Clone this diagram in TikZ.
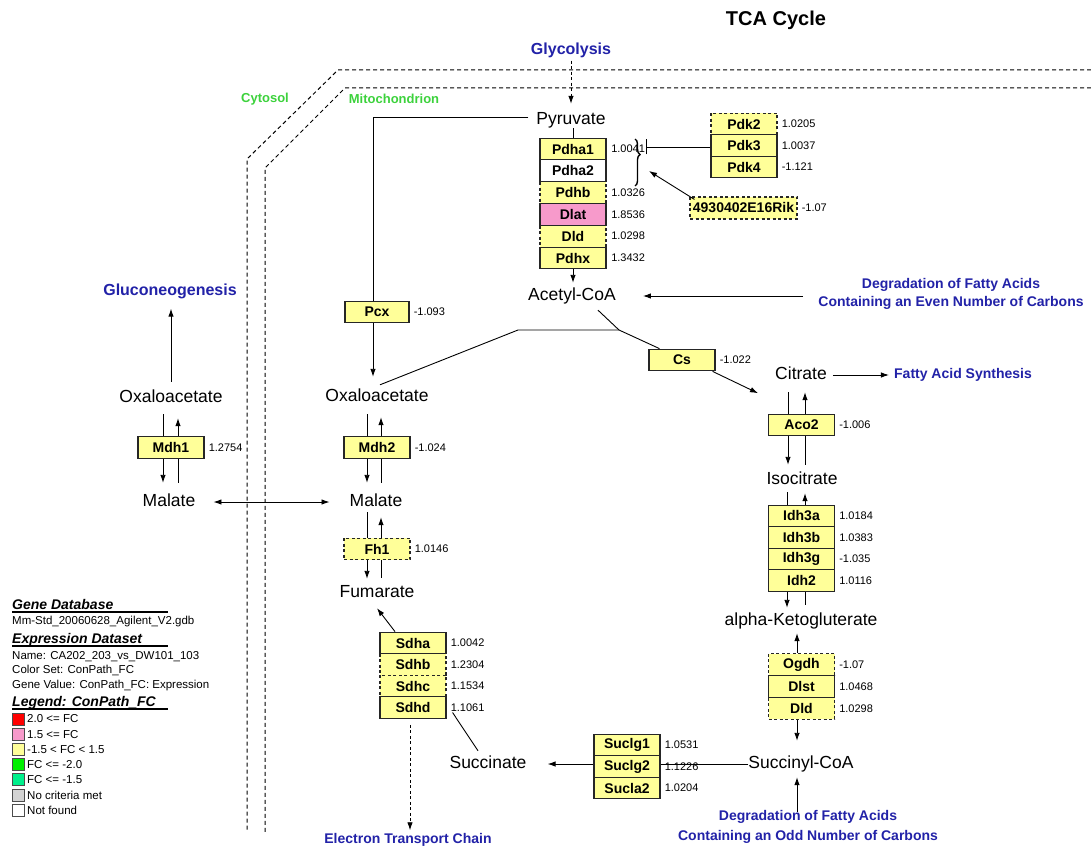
\documentclass[tikz,border=0pt]{standalone}
\usepackage{fontspec}
\setmainfont{Liberation Sans}
\usetikzlibrary{arrows.meta,calc,decorations.pathreplacing}
\definecolor{geneY}{HTML}{FFFF99}
\definecolor{genePink}{HTML}{F79ACB}
\definecolor{pathBlue}{HTML}{2222A8}
\definecolor{compGreen}{HTML}{3CD23C}
\definecolor{legRed}{HTML}{FF0000}
\definecolor{legGreen}{HTML}{00F000}
\definecolor{legSea}{HTML}{00F08C}
\definecolor{legGray}{HTML}{D3D3D3}
\begin{document}
\begin{tikzpicture}[x=1pt,y=-1pt,
 met/.style={font=\fontsize{17.5}{20}\selectfont, inner sep=0pt, text height=12.5pt, text depth=3.5pt},
 gene/.style={draw=black!85, line width=1.1pt, fill=geneY, minimum width=66pt, minimum height=21.7pt, inner sep=0pt, font=\bfseries\fontsize{14}{16}\selectfont},
 dgene/.style={gene, dash pattern=on 3pt off 2.5pt},
 val/.style={font=\fontsize{11}{13}\selectfont, inner sep=1pt, anchor=west},
 pathlbl/.style={text=pathBlue, font=\bfseries\fontsize{14}{18}\selectfont, inner sep=0pt},
 comp/.style={text=compGreen, font=\bfseries\fontsize{13}{15}\selectfont, inner sep=0pt},
 arr/.style={-{Latex[length=8pt,width=5.5pt]}, line width=0.9pt},
 ln/.style={line width=0.9pt},
 dotarr/.style={arr, dash pattern=on 3pt off 2.5pt},
 memb/.style={line width=1pt, dash pattern=on 4pt off 3pt},
 leghead/.style={font=\bfseries\itshape\fontsize{14}{16}\selectfont, anchor=base west, inner sep=0pt},
 legtxt/.style={font=\fontsize{11.5}{13}\selectfont, anchor=base west, inner sep=0pt},
 legbox/.style={draw=black!70, line width=0.8pt, minimum size=12pt, inner sep=0pt},
 ]
\fill[white] (0,0) rectangle (1091,850);
\useasboundingbox (0,0) rectangle (1091,850);

% title and compartments
\node[font=\bfseries\fontsize{20}{24}\selectfont] (title) at (776,20) {TCA Cycle};
\node[comp] (cyto) at (265,99) {Cytosol};
\node[comp] (mito) at (394,99) {Mitochondrion};
\coordinate (o1) at (1091,70); \coordinate (o2) at (338,70);
\coordinate (o3) at (247,159); \coordinate (o4) at (247,832);
\coordinate (i1) at (1091,88); \coordinate (i2) at (345,88);
\coordinate (i3) at (265,168); \coordinate (i4) at (265,832);
\draw[memb] (o1) -- (o2) -- (o3) -- (o4);
\draw[memb] (i1) -- (i2) -- (i3) -- (i4);

% pathway labels
\node[pathlbl, font=\bfseries\fontsize{16}{18}\selectfont] (glyc) at (571,50) {Glycolysis};
\node[pathlbl, font=\bfseries\fontsize{16}{18}\selectfont] (gluco) at (170,291) {Gluconeogenesis};
\node[pathlbl, align=center] (degEven) at (951,294) {Degradation of Fatty Acids\\Containing an Even Number of Carbons};
\node[pathlbl] (fas) at (963,375) {Fatty Acid Synthesis};
\node[pathlbl] (etc) at (408,840) {Electron Transport Chain};
\node[pathlbl, align=center, font=\bfseries\fontsize{14}{20.5}\selectfont] (degOdd) at (808,827) {Degradation of Fatty Acids\\Containing an Odd Number of Carbons};

% metabolites
\node[met] (pyr) at (571,120) {Pyruvate};
\node[met] (acoa) at (572,296) {Acetyl-CoA};
\node[met] (oaa2) at (377,397) {Oxaloacetate};
\node[met] (mal2) at (376,502) {Malate};
\node[met] (fum) at (377,593) {Fumarate};
\node[met] (succ) at (488,764) {Succinate};
\node[met] (scoa) at (801,764) {Succinyl-CoA};
\node[met] (akg) at (801,621) {alpha-Ketogluterate};
\node[met] (icit) at (802,480) {Isocitrate};
\node[met] (cit) at (801,375) {Citrate};
\node[met] (oaa1) at (171,398) {Oxaloacetate};
\node[met] (mal1) at (169,502) {Malate};

% connectors that run behind enzyme boxes
\draw[arr] ([xshift=-8pt,yshift=3pt]pyr.west) -| ([xshift=-4pt,yshift=12pt]oaa2.north);
\draw[arr] ([xshift=-8pt,yshift=-8pt]oaa1.south) -- ([xshift=-6pt,yshift=11pt]mal1.north);
\draw[arr] ([xshift=9pt,yshift=11pt]mal1.north) -- ([xshift=7pt,yshift=-12pt]oaa1.south);
\draw[arr] ([xshift=-10pt,yshift=-9pt]oaa2.south) -- ([xshift=-9pt,yshift=11pt]mal2.north);
\draw[arr] ([xshift=5pt,yshift=11pt]mal2.north) -- ([xshift=4pt,yshift=-12pt]oaa2.south);
\draw[arr] ([xshift=-9pt,yshift=-2pt]mal2.south) -- ([xshift=-10pt,yshift=6pt]fum.north);
\draw[arr] ([xshift=4pt,yshift=7pt]fum.north) -- ([xshift=5pt,yshift=-7pt]mal2.south);
\draw[arr] ([xshift=-13pt,yshift=-9pt]cit.south) -- ([xshift=-14pt,yshift=7pt]icit.north);
\draw[arr] ([xshift=3pt,yshift=7pt]icit.north) -- ([xshift=4pt,yshift=-9pt]cit.south);
\draw[arr] ([xshift=-15pt,yshift=-4pt]icit.south) -- ([xshift=-14pt,yshift=5pt]akg.north);
\draw[arr] ([xshift=4pt,yshift=8pt]akg.north) -- ([xshift=3pt,yshift=-5pt]icit.south);

% enzymes: PDH complex
\node[dgene] (pdhb) at (573,192.6) {Pdhb};
\node[dgene] (dld1) at (573,236.2) {Dld};
\node[gene] (pdha1) at (573,149) {Pdha1};
\node[gene, fill=white] (pdha2) at (573,170.8) {Pdha2};
\node[gene, fill=genePink] (dlat) at (573,214.4) {Dlat};
\node[gene] (pdhx) at (573,258) {Pdhx};
\node[val] (vpdha1) at ([xshift=3.5pt]pdha1.east) {1.0041};
\node[val] (vpdhb) at ([xshift=3.5pt]pdhb.east) {1.0326};
\node[val] (vdlat) at ([xshift=3.5pt]dlat.east) {1.8536};
\node[val] (vdld1) at ([xshift=3.5pt]dld1.east) {1.0298};
\node[val] (vpdhx) at ([xshift=3.5pt]pdhx.east) {1.3432};

% Pdk
\node[dgene] (pdk2) at (744,124) {Pdk2};
\node[gene] (pdk3) at (744,145.5) {Pdk3};
\node[gene] (pdk4) at (744,167) {Pdk4};
\node[val] (vpdk2) at ([xshift=3pt]pdk2.east) {1.0205};
\node[val] (vpdk3) at ([xshift=3pt]pdk3.east) {1.0037};
\node[val] (vpdk4) at ([xshift=3pt]pdk4.east) {-1.121};
\node[dgene, minimum width=107pt, minimum height=22pt] (rik) at (743.5,208) {4930402E16Rik};
\node[val] (vrik) at ([xshift=3pt]rik.east) {-1.07};

% other enzymes
\node[gene, minimum width=64pt] (pcx) at (377,312) {Pcx};
\node[val] (vpcx) at ([xshift=3pt]pcx.east) {-1.093};
\node[gene] (mdh1) at (171,447.5) {Mdh1};
\node[val] (vmdh1) at ([xshift=3pt]mdh1.east) {1.2754};
\node[gene] (mdh2) at (377,447.5) {Mdh2};
\node[val] (vmdh2) at ([xshift=3pt]mdh2.east) {-1.024};
\node[dgene] (fh1) at (377,549) {Fh1};
\node[val] (vfh1) at ([xshift=3pt]fh1.east) {1.0146};

\node[dgene] (sdhb) at (413,664.5) {Sdhb};
\node[dgene] (sdhc) at (413,686) {Sdhc};
\node[gene] (sdha) at (413,643) {Sdha};
\node[gene] (sdhd) at (413,707.5) {Sdhd};
\node[val] (vsdha) at ([xshift=3pt]sdha.east) {1.0042};
\node[val] (vsdhb) at ([xshift=3pt]sdhb.east) {1.2304};
\node[val] (vsdhc) at ([xshift=3pt]sdhc.east) {1.1534};
\node[val] (vsdhd) at ([xshift=3pt]sdhd.east) {1.1061};

\node[gene] (cs) at (682,360) {Cs};
\node[val] (vcs) at ([xshift=3pt]cs.east) {-1.022};
\node[gene] (aco2) at (801.5,425) {Aco2};
\node[val] (vaco2) at ([xshift=3pt]aco2.east) {-1.006};

\node[gene] (idh3a) at (801.5,516) {Idh3a};
\node[gene] (idh3b) at (801.5,537.5) {Idh3b};
\node[gene] (idh3g) at (801.5,559) {Idh3g};
\node[gene] (idh2) at (801.5,580.5) {Idh2};
\node[val] (vidh3a) at ([xshift=3pt]idh3a.east) {1.0184};
\node[val] (vidh3b) at ([xshift=3pt]idh3b.east) {1.0383};
\node[val] (vidh3g) at ([xshift=3pt]idh3g.east) {-1.035};
\node[val] (vidh2) at ([xshift=3pt]idh2.east) {1.0116};

\node[dgene] (ogdh) at (801.5,664.5) {Ogdh};
\node[dgene] (dld2) at (801.5,708.5) {Dld};
\node[gene] (dlst) at (801.5,686.5) {Dlst};
\node[val] (vogdh) at ([xshift=3pt]ogdh.east) {-1.07};
\node[val] (vdlst) at ([xshift=3pt]dlst.east) {1.0468};
\node[val] (vdld2) at ([xshift=3pt]dld2.east) {1.0298};

\node[gene] (suclg1) at (627,745) {Suclg1};
\node[gene] (suclg2) at (627,766.5) {Suclg2};
\node[gene] (sucla2) at (627,788) {Sucla2};
\node[val] (vsuclg1) at ([xshift=3pt]suclg1.east) {1.0531};
\node[val] (vsuclg2) at ([xshift=3pt]suclg2.east) {1.1226};
\node[val] (vsucla2) at ([xshift=3pt]sucla2.east) {1.0204};

% remaining connectors
\draw[dotarr, shorten >=8pt, shorten <=3pt] (glyc.south) -- (pyr.north);
\draw[ln] (pyr.south -| pdha1.north) -- (pdha1.north);
\draw[arr, shorten >=5pt] (pdhx.south) -- (pdhx.south |- acoa.north);
\coordinate (inh) at (646,147);
\draw[ln, -{Bar[width=15pt,line width=1pt]}] (pdk3.west |- inh) -- (inh);
\coordinate (brT) at (635,139);
\coordinate (brB) at (635,186);
\draw[line width=1.4pt, decorate, decoration={brace, amplitude=5pt, aspect=0.33}] (brT) -- (brB);
\coordinate (brA) at (649,171);
\draw[arr] ([xshift=5pt,yshift=-3pt]rik.north west) -- (brA);
\draw[arr] ([xshift=-15pt]degEven.west |- acoa.center) -- ([xshift=27pt]acoa.east);
\coordinate (J) at (619,330);
\coordinate (K) at (518,330);
\draw[ln] ([xshift=26pt,yshift=-6pt]acoa.south) -- (J) -- ([xshift=11pt]cs.north west);
\draw[ln] (J) -- (K) -- ([xshift=3pt,yshift=4pt]oaa2.north);
\draw[arr] ([xshift=-3pt]cs.south east) -- ([xshift=-17pt,yshift=-10pt]cit.south west);
\draw[arr] ([xshift=6pt]cit.east) -- ([xshift=-5pt]fas.west);
\draw[arr] ([yshift=8pt]oaa1.north) -- ([xshift=1pt,yshift=-10pt]gluco.south);
\draw[{Latex[length=8pt,width=5.5pt]}-{Latex[length=8pt,width=5.5pt]}, ln, shorten <=18pt, shorten >=20pt] (mal1.east) -- (mal2.west);
\draw[arr] ([xshift=-4.5pt]ogdh.north) -- ([xshift=-4pt,yshift=-4pt]akg.south);
\draw[arr] ([xshift=-4.5pt]dld2.south) -- ([xshift=-4pt,yshift=15pt]scoa.north);
\draw[arr] ([xshift=-11pt,yshift=-2pt]degOdd.north) -- ([xshift=-4pt,yshift=-5pt]scoa.south);
\draw[ln] (scoa.west) -- (scoa.west -| suclg2.east);
\draw[arr] (suclg2.west |- succ.east) -- ([xshift=21pt]succ.east);
\draw[ln] ([xshift=-10pt,yshift=5pt]succ.north) -- ([xshift=6pt,yshift=-5pt]sdhd.east);
\draw[arr] ([xshift=-18pt]sdha.north) -- ([yshift=-7pt]fum.south);
\draw[dotarr] ([xshift=-3pt,yshift=-6pt]sdhd.south) -- ([xshift=2pt,yshift=3pt]etc.north);

% legend
\node[leghead] (lh1) at (12,609) {Gene Database};
\draw[line width=1.5pt] ([yshift=-3pt]lh1.base west) -- ++(156,0);
\node[legtxt] (lt-db) at (12,624) {Mm-Std\_20060628\_Agilent\_V2.gdb};
\node[leghead] (lh2) at (12,643) {Expression Dataset};
\draw[line width=1.5pt] ([yshift=-3pt]lh2.base west) -- ++(156,0);
\node[legtxt] (lt-name) at (12,659) {Name: CA202\_203\_vs\_DW101\_103};
\node[legtxt] (lt-cs) at (12,673) {Color Set: ConPath\_FC};
\node[legtxt] (lt-gv) at (12,688) {Gene Value: ConPath\_FC: Expression};
\node[leghead] (lh3) at (12,706) {Legend: ConPath\_FC};
\draw[line width=1.5pt] ([yshift=-3pt]lh3.base west) -- ++(156,0);
\foreach \col/\txt [count=\i from 0] in {legRed/{2.0 <= FC}, genePink/{1.5 <= FC}, geneY/{-1.5 < FC < 1.5}, legGreen/{FC <= -2.0}, legSea/{FC <= -1.5}, legGray/{No criteria met}, white/{Not found}} {
  \node[legbox, fill=\col] (lb\i) at (18, 719+15.2*\i) {};
  \node[legtxt, anchor=west] (lt\i) at (27, 719+15.2*\i) {\txt};
}
\end{tikzpicture}
\end{document}
